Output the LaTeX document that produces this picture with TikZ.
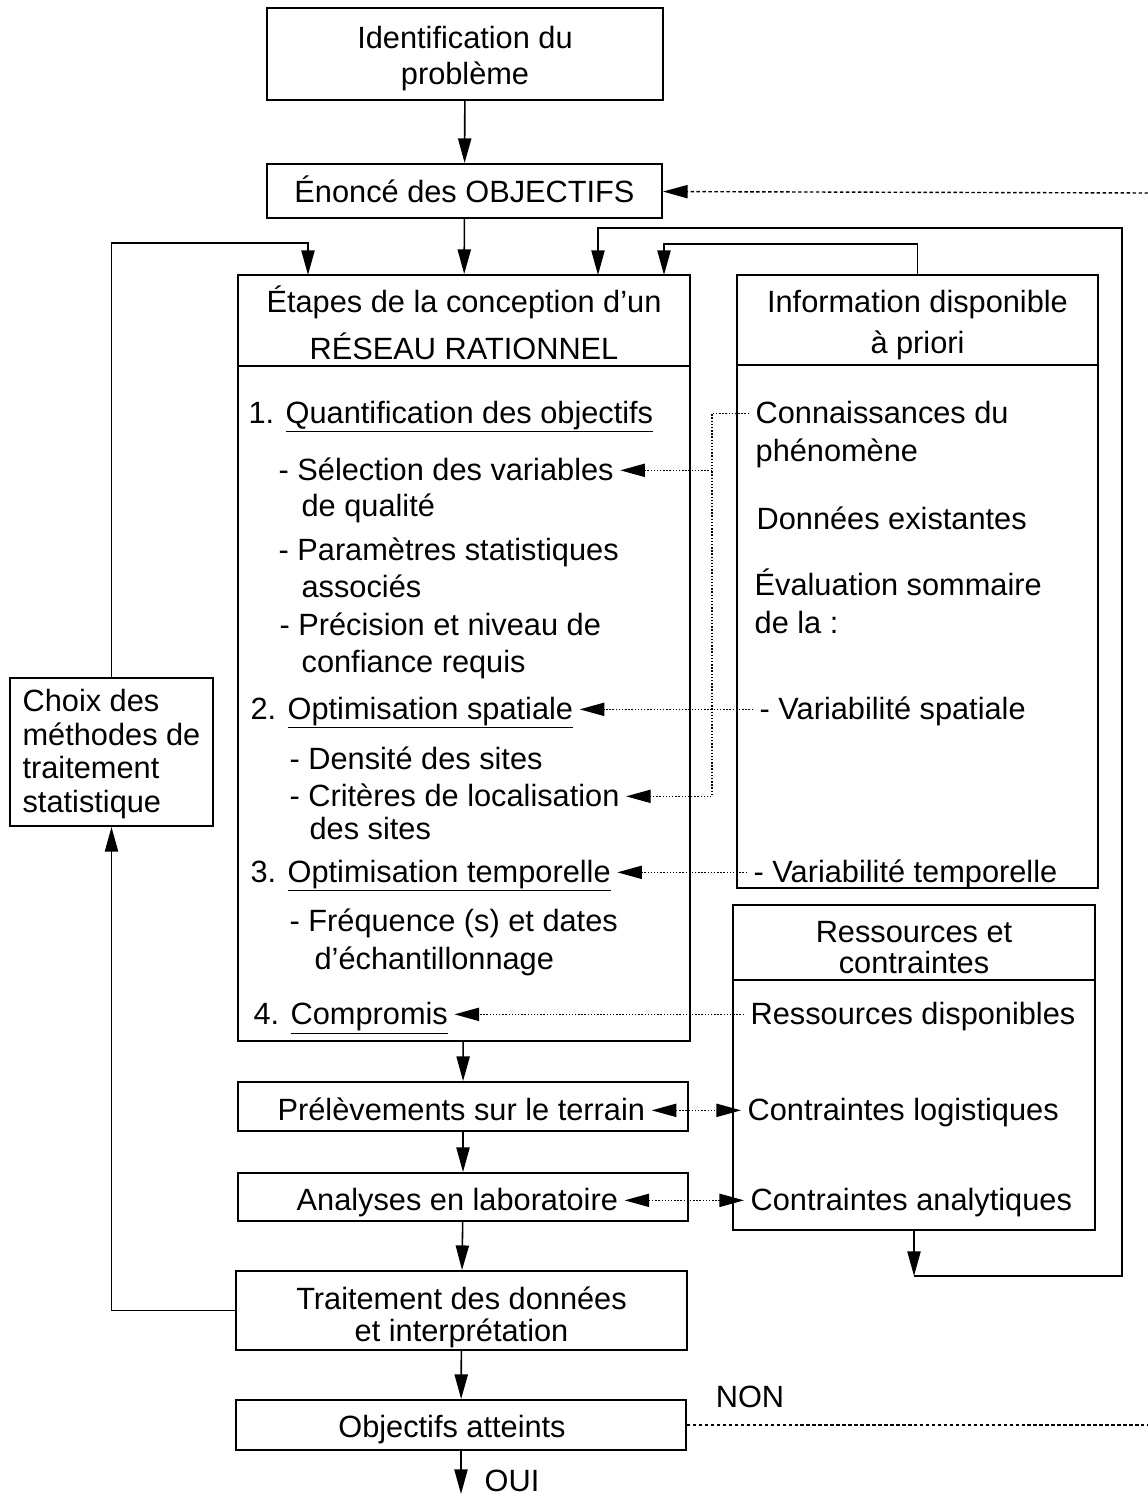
\documentclass[tikz,border=0pt]{standalone}
\usepackage{fontspec}
\setmainfont{Liberation Sans}
\usetikzlibrary{arrows.meta,calc,fit}

\begin{document}
\begin{tikzpicture}[
  x=0.02cm, y=-0.02cm, line width=0.9pt,
  font=\fontsize{17.5}{20.5}\selectfont,
  box/.style={draw, line width=1.1pt, inner sep=0pt},
  txt/.style={align=center, font=\fontsize{17.5}{#1}\selectfont},
  txt/.default=20.5,
  lbl/.style={anchor=base west, text height=14pt, text depth=3pt},
  tip/.style={-{Triangle[length=14pt,width=7.5pt]}},
  tips/.style={{Triangle[length=14pt,width=7.5pt]}-{Triangle[length=14pt,width=7.5pt]}},
  dot/.style={line width=0.8pt, densely dotted},
  dsh/.style={line width=0.8pt, dash pattern=on 2pt off 1.4pt}
]
  \useasboundingbox (0,0) rectangle (1148,1496);

  % Main column
  \node[box, fit={(267,8) (663,100)},
    label={[txt=20.5, yshift=-0.1cm]center:Identification du\\problème}] (ident) {};
  \node[box, fit={(267,164) (662,218)},
    label={[txt, yshift=0.04cm]center:Énoncé des OBJECTIFS}] (enonce) {};
  \node[box, fit={(238,275) (690,366)},
    label={[txt=26.7, yshift=-0.04cm]center:Étapes de la conception d'un\\RÉSEAU RATIONNEL}] (etapesH) {};
  \node[box, fit={(238,366) (690,1041)}] (etapesB) {};
  \node[box, fit={(238,1082) (688,1131)}] (prel) {};
  \node[box, fit={(238,1173) (688,1221)}] (anal) {};
  \node[box, fit={(236,1271) (687,1350)},
    label={[txt=18.2, yshift=-0.14cm]center:Traitement des données\\et interprétation}] (trait) {};
  \node[box, fit={(236,1400) (686,1450)},
    label={[txt, xshift=-0.18cm, yshift=-0.1cm]center:Objectifs atteints}] (obj) {};

  % Left side
  \node[box, fit={(10,678) (213,826)},
    label={[txt=19.3, align=left, yshift=-0.04cm]center:Choix des\\méthodes de\\traitement\\statistique}] (choix) {};

  % Right side
  \node[box, fit={(737,275) (1098,365)},
    label={[txt=23.3, yshift=-0.1cm]center:Information disponible\\à priori}] (infoH) {};
  \node[box, fit={(737,365) (1098,888)}] (infoB) {};
  \node[box, fit={(733,905) (1095,980)},
    label={[txt=17.6, yshift=-0.1cm]center:Ressources et\\contraintes}] (ressH) {};
  \node[box, fit={(733,980) (1095,1230)}] (ressB) {};

  % Steps
  \node[lbl] (q1) at (242,423) {1. \underline{Quantification des objectifs}};
  \node[lbl] (sel) at (272,480) {- Sélection des variables};
  \node[lbl] (qual) at (295,516) {de qualité};
  \node[lbl] (param) at (272,560) {- Paramètres statistiques};
  \node[lbl] (assoc) at (295,597) {associés};
  \node[lbl] (prec) at (273,635) {- Précision et niveau de};
  \node[lbl] (conf) at (295,672) {confiance requis};
  \node[lbl] (q2) at (244,719) {2. \underline{Optimisation spatiale}};
  \node[lbl] (dens) at (283,769) {- Densité des sites};
  \node[lbl] (crit) at (283,806) {- Critères de localisation};
  \node[lbl] (sites) at (303,839) {des sites};
  \node[lbl] (q3) at (244,882) {3. \underline{Optimisation temporelle}};
  \node[lbl] (freq) at (283,931) {- Fréquence (s) et dates};
  \node[lbl] (echant) at (308,969) {d'échantillonnage};
  \node[lbl] (q4) at (247,1024) {4. \underline{Compromis}};
  \node[lbl] (prelT) at (271,1120) {Prélèvements sur le terrain};
  \node[lbl] (analT) at (290,1210) {Analyses en laboratoire};

  % Available information
  \node[lbl] (conn) at (749,423) {Connaissances du};
  \node[lbl] (pheno) at (749,461) {phénomène};
  \node[lbl] (donn) at (750,529) {Données existantes};
  \node[lbl] (eval) at (748,595) {Évaluation sommaire};
  \node[lbl] (dela) at (748,633) {de la :};
  \node[lbl] (vspat) at (753,719) {- Variabilité spatiale};
  \node[lbl] (vtemp) at (747,882) {- Variabilité temporelle};
  \node[lbl] (rdisp) at (744,1024) {Ressources disponibles};
  \node[lbl] (clog) at (741,1120) {Contraintes logistiques};
  \node[lbl] (cana) at (744,1210) {Contraintes analytiques};

  \node (non) at (750,1397) {NON};
  \node (oui) at (512,1481) {OUI};

  \coordinate (fin) at (461,1494);
  \coordinate (in1) at (308,275);
  \coordinate (in3) at (598,275);
  \coordinate (in4) at (664,275);
  \coordinate (bas) at (914,1276);
  \coordinate (dv) at (712,0);
  \coordinate (dr1) at (1148,193);
  \coordinate (dr2) at (1148,1425);

  % Flow
  \draw[tip] (ident) -- (enonce);
  \draw[tip] (enonce) -- (etapesH);
  \draw[tip] (etapesB) -- (prel);
  \draw[tip] (prel) -- (anal);
  \draw[tip] (anal) -- (trait);
  \draw[tip] (trait) -- (obj);
  \draw[tip] (obj) -- (fin);

  % Loops
  \draw[tip] (trait.west) -| (choix.south);
  \draw[tip] (choix.north) -- ++(0,-434) -| (in1);
  \draw[tip] (infoH.north) -- ++(0,-30) -| (in4);
  \draw[tip] (ressB.south) -- (bas);
  \draw[tip] (bas) -| (1122,228) -| (in3);
  \draw[dsh, tip] (dr1) -- (enonce);
  \draw[dsh] (obj) -- (dr2);

  % Dotted links
  \draw[dot, tip] (conn.west) -- (conn.west -| dv) |- (crit.east);
  \draw[dot, tip] (sel.east -| dv) -- (sel.east);
  \draw[dot, tip] (vspat.west) -- (q2.east);
  \draw[dot, tip] (vtemp.west) -- (q3.east);
  \draw[dot, tip] (rdisp.west) -- (q4.east);
  \draw[dot, tips] (prelT.east) -- (clog.west);
  \draw[dot, tips] (analT.east) -- (cana.west);
\end{tikzpicture}
\end{document}
